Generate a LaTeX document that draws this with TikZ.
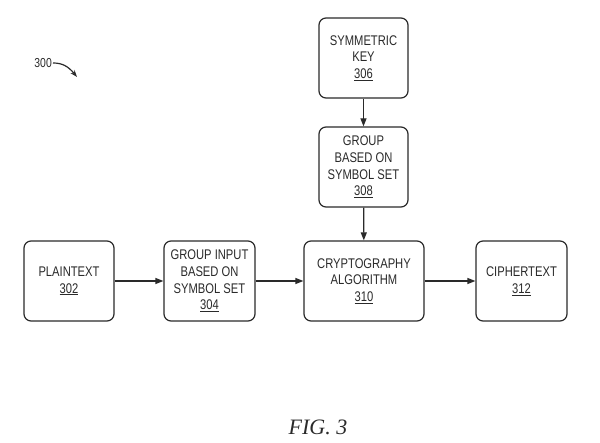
\documentclass[tikz,border=0pt]{standalone}
\usepackage{fontspec}
\setmainfont{Liberation Serif}
\newfontfamily\boxfont[FakeStretch=0.8]{Liberation Sans}
\usetikzlibrary{arrows.meta}
\definecolor{ink}{HTML}{2A2A2A}
\tikzset{
  blk/.style={draw=ink, line width=1.2pt, rounded corners=7pt, text=ink, align=center,
    font=\boxfont\fontsize{14}{16.7}\selectfont, inner sep=0pt, fill=white},
  conn/.style={draw=ink, line width=1.2pt, -{Triangle[length=8pt,width=6pt]}}
}
\begin{document}
\begin{tikzpicture}[x=1pt,y=-1pt]
\useasboundingbox (0,0) rectangle (600,443);
\node[blk, minimum width=89pt, minimum height=80pt] (k) at (363.5,58) {SYMMETRIC\\KEY\\\underline{306}};
\node[blk, minimum width=89pt, minimum height=80pt] (g) at (363.5,167) {GROUP\\BASED ON\\SYMBOL SET\\\underline{308}};
\node[blk, minimum width=90pt, minimum height=80pt] (p) at (69,281) {PLAINTEXT\\\underline{302}};
\node[blk, minimum width=91pt, minimum height=80pt] (gi) at (209.5,281) {GROUP INPUT\\BASED ON\\SYMBOL SET\\\underline{304}};
\node[blk, minimum width=120pt, minimum height=80pt] (c) at (364,281) {CRYPTOGRAPHY\\ALGORITHM\\\underline{310}};
\node[blk, minimum width=91pt, minimum height=80pt] (ct) at (521.5,281) {CIPHERTEXT\\\underline{312}};
\draw[conn] (k) -- (g);
\draw[conn] (g) -- (c);
\draw[conn] (p) -- (gi);
\draw[conn] (gi) -- (c);
\draw[conn] (c) -- (ct);
\node[text=ink, font=\boxfont\fontsize{13}{13}\selectfont, inner sep=1pt, anchor=east] (lbl) at (53,63) {300};
\coordinate (lt) at (77,77);
\draw[draw=ink, line width=1.2pt, -{Stealth[open,length=7pt,width=5pt]}] (lbl.east) .. controls (62,63) and (68,66) .. (lt);
\node[font=\itshape\fontsize{22}{22}\selectfont, text=ink] (fig) at (318,427) {FIG. 3};
\end{tikzpicture}
\end{document}
